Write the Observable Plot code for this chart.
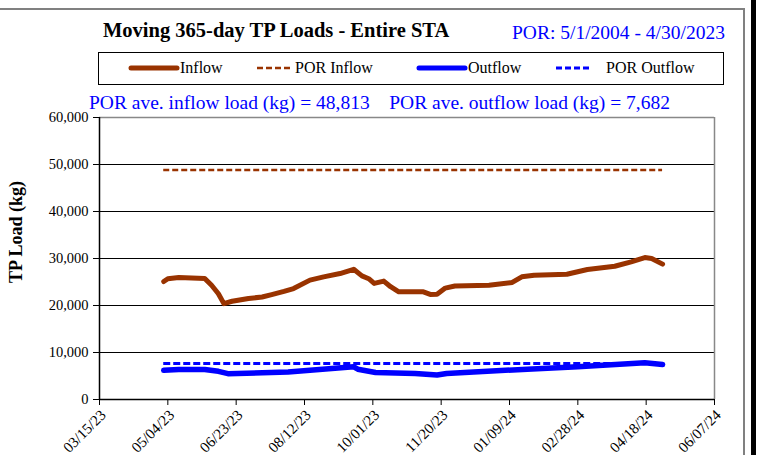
<!DOCTYPE html>
<html>
<head>
<meta charset="utf-8">
<script src="https://cdn.jsdelivr.net/npm/d3@7"></script>
<script src="https://cdn.jsdelivr.net/npm/@observablehq/plot@0.6"></script>
<style>
  html, body { margin: 0; padding: 0; background: #fff; }
  #wrap { position: relative; width: 760px; height: 455px; overflow: hidden; background: #fff; font-family: "Liberation Serif", "Times New Roman", serif; }
  .abs { position: absolute; white-space: nowrap; line-height: 1; }
  #plot { position: absolute; left: 0; top: 110px; }
</style>
</head>
<body>
<div id="wrap">
  <div class="abs" style="left:0;top:8px;width:745px;height:2px;background:#808080"></div>
  <div class="abs" style="left:743px;top:8px;width:2px;height:447px;background:#808080"></div>
  <div class="abs" style="left:751px;top:0;width:5px;height:455px;background:#000"></div>

  <div class="abs" id="title" style="left:103px;top:20px;font-size:20.5px;font-weight:bold;color:#000">Moving 365-day TP Loads - Entire STA</div>
  <div class="abs" id="por" style="left:512px;top:23px;font-size:19.5px;color:#0000ff">POR: 5/1/2004 - 4/30/2023</div>

  <div class="abs" style="left:98px;top:52px;width:624px;height:31px;border:1px solid #000"></div>
  <svg class="abs" style="left:0;top:52px" width="760" height="33">
    <line x1="131" x2="177" y1="16" y2="16" stroke="#993300" stroke-width="5" stroke-linecap="round"/>
    <line x1="257" x2="292" y1="16" y2="16" stroke="#993300" stroke-width="2.5" stroke-dasharray="6,3"/>
    <line x1="419" x2="465" y1="16" y2="16" stroke="#0000ff" stroke-width="5" stroke-linecap="round"/>
    <line x1="556" x2="592" y1="16" y2="16" stroke="#0000ff" stroke-width="3" stroke-dasharray="6,3"/>
  </svg>
  <div class="abs" style="left:180px;top:60px;font-size:16px">Inflow</div>
  <div class="abs" style="left:295px;top:60px;font-size:16px">POR Inflow</div>
  <div class="abs" style="left:468px;top:60px;font-size:16px">Outflow</div>
  <div class="abs" style="left:606px;top:60px;font-size:16px">POR Outflow</div>

  <div class="abs" id="sub" style="left:89px;top:93px;font-size:19.5px;color:#0000ff"></div>

  <div class="abs" style="left:16px;top:232px;font-size:18px;font-weight:bold;transform:translate(-50%,-50%) rotate(-90deg)">TP Load (kg)</div>

  <div id="plot"></div>
</div>
<script>
// ---- data ----
const inflowDates = ["2023-05-01","2023-05-04","2023-05-12","2023-05-31","2023-06-05","2023-06-10","2023-06-14","2023-06-20","2023-07-02","2023-07-12","2023-07-19","2023-07-28","2023-08-04","2023-08-16","2023-08-26","2023-09-07","2023-09-17","2023-09-23","2023-09-28","2023-10-02","2023-10-09","2023-10-14","2023-10-20","2023-10-28","2023-11-07","2023-11-12","2023-11-17","2023-11-23","2023-11-30","2023-12-25","2024-01-11","2024-01-18","2024-01-27","2024-02-20","2024-03-06","2024-03-26","2024-04-07","2024-04-17","2024-04-22","2024-04-30"];
const inflowValues = [25100,25700,25950,25750,24300,22500,20400,20900,21500,21800,22300,23000,23600,25400,26100,26800,27700,26300,25700,24700,25200,24000,22900,22900,22900,22350,22400,23700,24150,24300,24900,26100,26450,26650,27650,28350,29300,30200,30000,28800];

const outflowDates = ["2023-05-01","2023-05-12","2023-05-31","2023-06-10","2023-06-17","2023-07-31","2023-09-17","2023-09-20","2023-10-03","2023-11-01","2023-11-17","2023-11-24","2024-01-22","2024-02-28","2024-04-17","2024-04-30"];
const outflowValues = [6200,6400,6400,6000,5500,5850,6950,6450,5750,5550,5200,5550,6450,6950,7800,7450];

const porInflow = 48813;
const porOutflow = 7682;
const porDates = ["2023-05-01","2024-04-30"];

const xTickLabels = ["2023-03-15","2023-05-04","2023-06-23","2023-08-12","2023-10-01","2023-11-20","2024-01-09","2024-02-28","2024-04-18","2024-06-07"];
const yTicks = [0,10000,20000,30000,40000,50000,60000];

// ---- build ----
const parse = d3.utcParse("%Y-%m-%d");
const fmt = d3.format(",");
document.getElementById("sub").textContent =
  "POR ave. inflow load (kg) = " + fmt(porInflow) + "\u00a0\u00a0\u00a0\u00a0POR ave. outflow load (kg) = " + fmt(porOutflow);

const inflow = inflowDates.map((d, i) => ({date: parse(d), value: inflowValues[i]}));
const outflow = outflowDates.map((d, i) => ({date: parse(d), value: outflowValues[i]}));
const xt = xTickLabels.map(parse);
const x0 = xt[0], x1 = xt[xt.length - 1];
const p0 = parse(porDates[0]), p1 = parse(porDates[1]);

const chart = Plot.plot({
  width: 760,
  height: 345,
  marginLeft: 99,
  marginRight: 46,
  marginTop: 7,
  marginBottom: 56,
  style: {fontFamily: "Liberation Serif, Times New Roman, serif", fontSize: "14.5px", color: "#000", background: "transparent", overflow: "visible"},
  x: {type: "utc", domain: [x0, x1], axis: null},
  y: {domain: [0, 60000], ticks: yTicks, tickFormat: d3.format(","), tickSize: 6, tickPadding: 5, label: null},
  marks: [
    Plot.ruleY(yTicks.filter(t => t > 0 && t < 60000), {stroke: "#000", strokeWidth: 1, strokeOpacity: 1}),
    Plot.ruleY([yTicks[yTicks.length - 1]], {stroke: "#888", strokeWidth: 1.5}),
    Plot.ruleX([x1], {stroke: "#888", strokeWidth: 1.5}),
    Plot.axisX({ticks: xt, tickSize: 6, fill: "none", label: null}),
    Plot.axisX({ticks: xt, tickSize: 0, tickPadding: 13, dx: 4, tickRotate: -45, tickFormat: d3.utcFormat("%m/%d/%y"), stroke: "none", fontSize: 15, label: null}),
    Plot.ruleY([0], {stroke: "#000", strokeWidth: 1.5}),
    Plot.ruleX([x0], {stroke: "#000", strokeWidth: 1.5}),
    Plot.ruleY([porInflow], {x1: p0, x2: p1, stroke: "#993300", strokeWidth: 2.5, strokeDasharray: "6,3"}),
    Plot.ruleY([porOutflow], {x1: p0, x2: p1, stroke: "#0000ff", strokeWidth: 3, strokeDasharray: "7,3"}),
    Plot.line(inflow, {x: "date", y: "value", stroke: "#993300", strokeWidth: 5, strokeLinecap: "round", strokeLinejoin: "round"}),
    Plot.line(outflow, {x: "date", y: "value", stroke: "#0000ff", strokeWidth: 5.5, strokeLinecap: "round", strokeLinejoin: "round"})
  ]
});
document.getElementById("plot").appendChild(chart);
</script>
</body>
</html>
